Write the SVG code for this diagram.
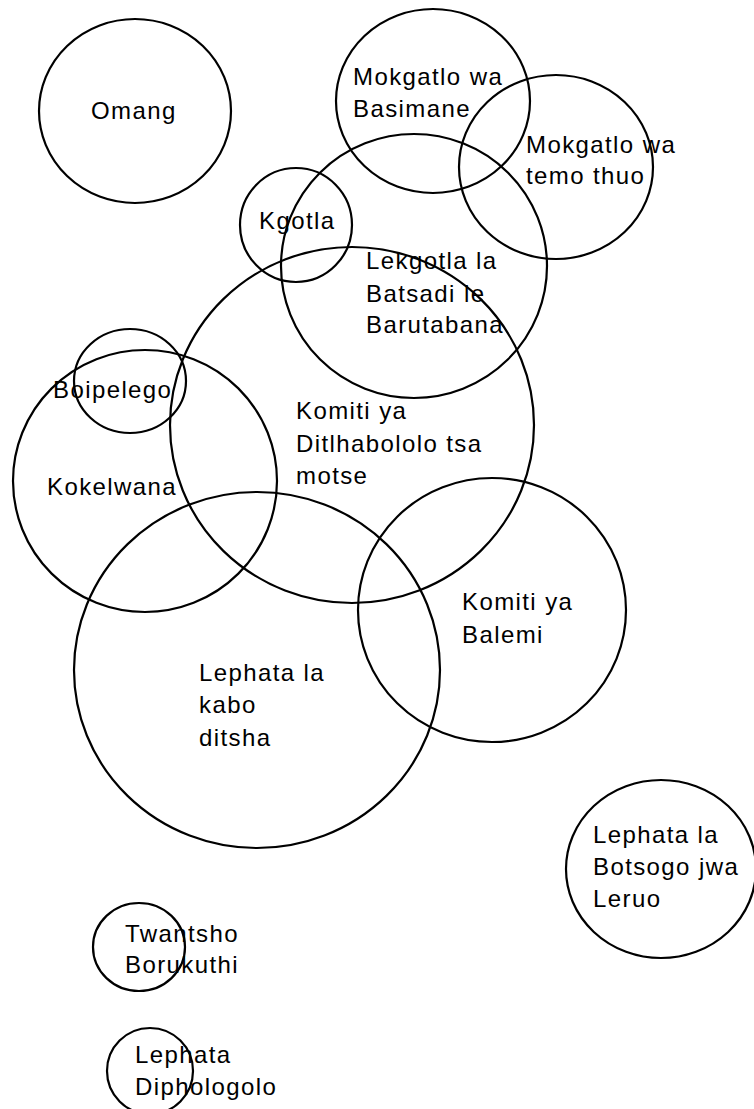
<svg xmlns="http://www.w3.org/2000/svg" width="754" height="1109" viewBox="0 0 754 1109">
<style>
.c{fill:none;stroke:#000;stroke-width:2.2}
.t{font-family:"Liberation Sans",Arial,sans-serif;font-size:24px;letter-spacing:1.4px;fill:#000}
</style>
<rect width="754" height="1109" fill="#fff"/>
<g id="omang"><ellipse class="c" cx="135" cy="111" rx="96" ry="92"/><text class="t" x="91" y="119">Omang</text></g>
<g id="basimane"><ellipse class="c" cx="433" cy="101" rx="97" ry="92"/><text class="t" x="353" y="85">Mokgatlo wa</text><text class="t" x="353" y="117">Basimane</text></g>
<g id="temo"><ellipse class="c" cx="556" cy="167" rx="97" ry="92"/><text class="t" x="526" y="153">Mokgatlo wa</text><text class="t" x="526" y="184">temo thuo</text></g>
<g id="kgotla"><ellipse class="c" cx="296" cy="225" rx="56" ry="57"/><text class="t" x="259" y="229">Kgotla</text></g>
<g id="lekgotla"><ellipse class="c" cx="414" cy="266" rx="133" ry="132"/><text class="t" x="366" y="269">Lekgotla la</text><text class="t" x="366" y="302">Batsadi le</text><text class="t" x="366" y="333">Barutabana</text></g>
<g id="ditlhabololo"><ellipse class="c" cx="352" cy="425" rx="182" ry="178"/><text class="t" x="296" y="419">Komiti ya</text><text class="t" x="296" y="452">Ditlhabololo tsa</text><text class="t" x="296" y="484">motse</text></g>
<g id="boipelego"><ellipse class="c" cx="130" cy="381" rx="56" ry="52"/><text class="t" x="53" y="398">Boipelego</text></g>
<g id="kokelwana"><ellipse class="c" cx="145" cy="481" rx="132" ry="131"/><text class="t" x="47" y="495">Kokelwana</text></g>
<g id="kabo"><ellipse class="c" cx="257" cy="670" rx="183" ry="178"/><text class="t" x="199" y="681">Lephata la</text><text class="t" x="199" y="713">kabo</text><text class="t" x="199" y="746">ditsha</text></g>
<g id="balemi"><ellipse class="c" cx="492" cy="610" rx="134" ry="132"/><text class="t" x="462" y="610">Komiti ya</text><text class="t" x="462" y="643">Balemi</text></g>
<g id="leruo"><ellipse class="c" cx="661" cy="869" rx="95" ry="89"/><text class="t" x="593" y="843">Lephata la</text><text class="t" x="593" y="875">Botsogo jwa</text><text class="t" x="593" y="907">Leruo</text></g>
<g id="borukuthi"><ellipse class="c" cx="139" cy="947" rx="46" ry="44"/><text class="t" x="125" y="942">Twantsho</text><text class="t" x="125" y="973">Borukuthi</text></g>
<g id="diphologolo"><ellipse class="c" cx="150" cy="1071" rx="43" ry="43"/><text class="t" x="135" y="1063">Lephata</text><text class="t" x="135" y="1095">Diphologolo</text></g>
<g id="connectors"/>
</svg>
